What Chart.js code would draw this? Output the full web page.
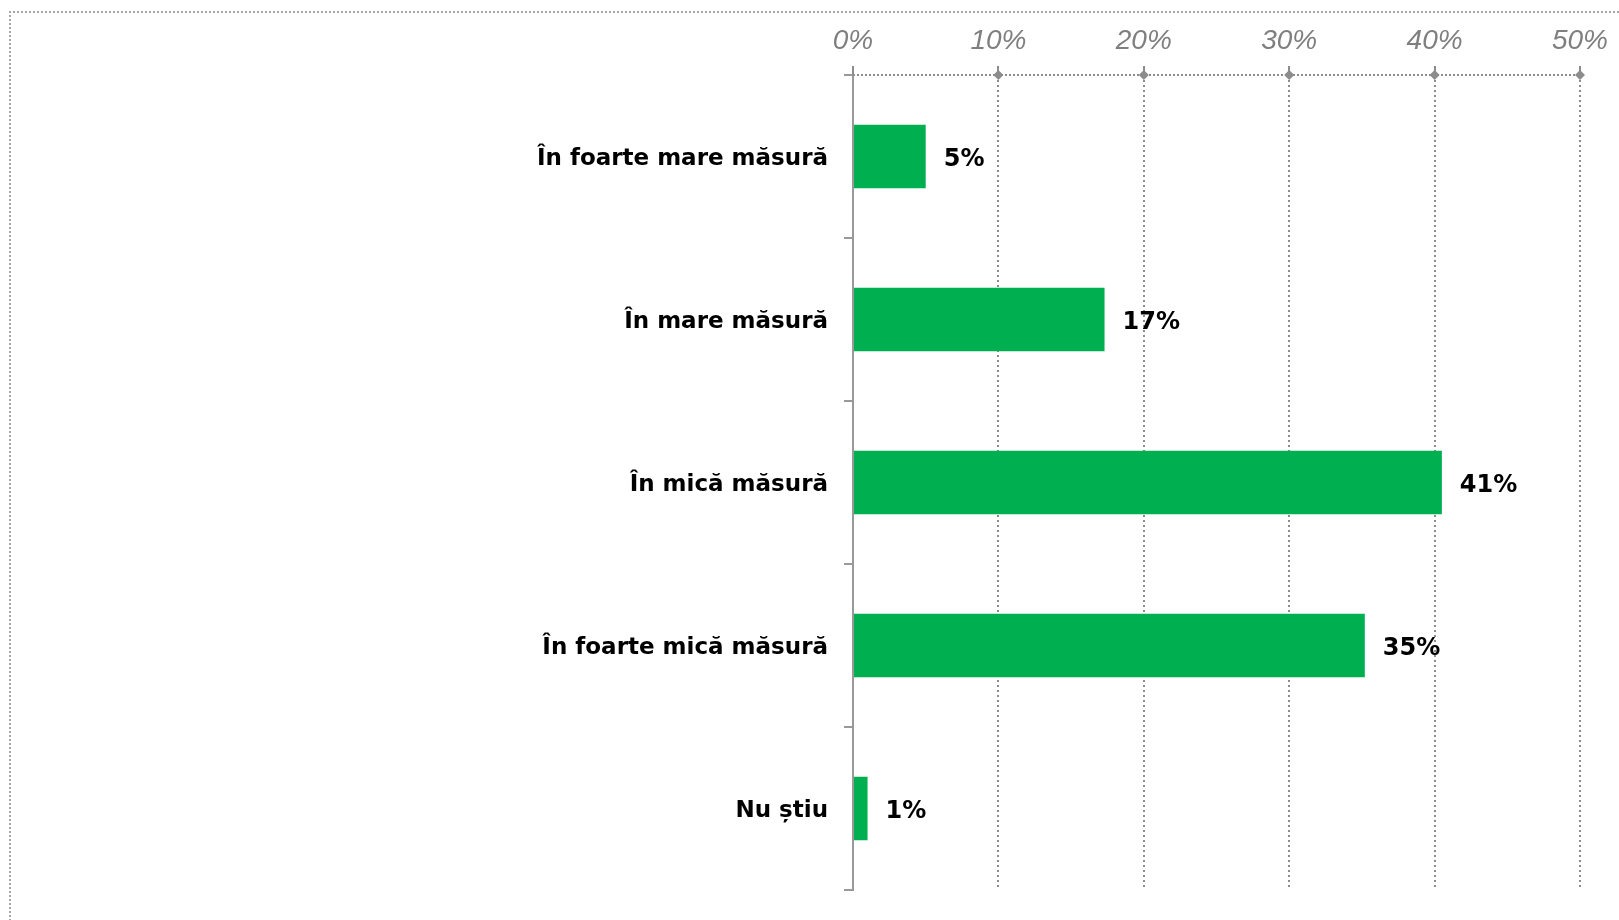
<!DOCTYPE html>
<html>
<head>
<meta charset="utf-8">
<script src="https://cdn.jsdelivr.net/npm/chart.js@4"></script>
<style>
    html, body { margin: 0; padding: 0; background: #fff; overflow: hidden; }
    #frame { position: absolute; left: 9px; top: 11px; width: 1700px; height: 1000px;
        border-top: 2px dotted #a6a6a6; border-left: 2px dotted #a6a6a6; }
    #wrap { position: absolute; left: 0; top: 0; width: 1619px; height: 920px; }
</style>
</head>
<body>
<div id="frame"></div>
<div id="wrap"><canvas id="chart"></canvas></div>
<script>
// ===== Data =====
const categories = ['În foarte mare măsură', 'În mare măsură', 'În mică măsură', 'În foarte mică măsură', 'Nu știu'];
const values = [5.0, 17.3, 40.5, 35.2, 1.0];
const tickValues = [0, 10, 20, 30, 40, 50];

const green = '#00b050';
const axisGray = '#8c8c8c';

// value labels to the right of each bar
const valueLabels = {
    id: 'valueLabels',
    afterDatasetsDraw(chart) {
        const ctx = chart.ctx;
        const meta = chart.getDatasetMeta(0);
        ctx.save();
        ctx.font = 'bold 24px "DejaVu Sans"';
        ctx.fillStyle = '#000';
        ctx.textAlign = 'left';
        ctx.textBaseline = 'middle';
        meta.data.forEach((bar, i) => {
            ctx.fillText(Math.round(values[i]) + '%', bar.x + 18, bar.y + 3);
        });
        ctx.restore();
    }
};

// dotted top axis line with small diamonds at each tick
const topAxis = {
    id: 'topAxis',
    afterDraw(chart) {
        const ctx = chart.ctx;
        const x = chart.scales.x;
        const y = chart.chartArea.top;
        ctx.save();
        ctx.strokeStyle = axisGray;
        ctx.lineWidth = 2;
        ctx.setLineDash([2, 2]);
        ctx.beginPath();
        ctx.moveTo(x.left, y);
        ctx.lineTo(x.right, y);
        ctx.stroke();
        ctx.fillStyle = axisGray;
        tickValues.forEach(v => {
            if (v === 0) return;
            const px = x.getPixelForValue(v);
            ctx.beginPath();
            ctx.moveTo(px, y - 5);
            ctx.lineTo(px + 5, y);
            ctx.lineTo(px, y + 5);
            ctx.lineTo(px - 5, y);
            ctx.closePath();
            ctx.fill();
        });
        ctx.restore();
    }
};

new Chart(document.getElementById('chart'), {
    type: 'bar',
    data: {
        labels: categories,
        datasets: [{ data: values, backgroundColor: green, borderWidth: 0,
            categoryPercentage: 1, barPercentage: 0.39 }]
    },
    options: {
        indexAxis: 'y',
        responsive: true, maintainAspectRatio: false,
        animation: false,
        layout: { padding: { left: 0, right: 39, top: 0, bottom: 30 } },
        plugins: { legend: { display: false }, tooltip: { enabled: false } },
        scales: {
            x: {
                position: 'top', min: 0, max: 50,
                afterFit: s => { s.height = 75; },
                afterBuildTicks: s => { s.ticks = tickValues.map(v => ({ value: v })); },
                ticks: { padding: 8, color: '#7f7f7f',
                    font: { family: '"Liberation Sans Narrow", "Liberation Sans"', size: 28, style: 'italic' },
                    callback: v => v + '%' },
                grid: { color: axisGray, lineWidth: 2, tickLength: 9 },
                // in v4 border.dash styles the gridlines; the axis line itself is drawn by topAxis
                border: { display: false, dash: [2, 3] }
            },
            y: {
                afterFit: s => { s.width = 853; },
                ticks: { padding: 16, labelOffset: 3, color: '#000',
                    font: { family: '"DejaVu Sans"', size: 23, weight: 'bold' } },
                grid: { offset: true, drawOnChartArea: false, drawTicks: true, tickLength: 9,
                    color: '#999', lineWidth: 2 },
                border: { display: true, color: '#999', width: 2 }
            }
        }
    },
    plugins: [valueLabels, topAxis]
});
</script>
</body>
</html>
